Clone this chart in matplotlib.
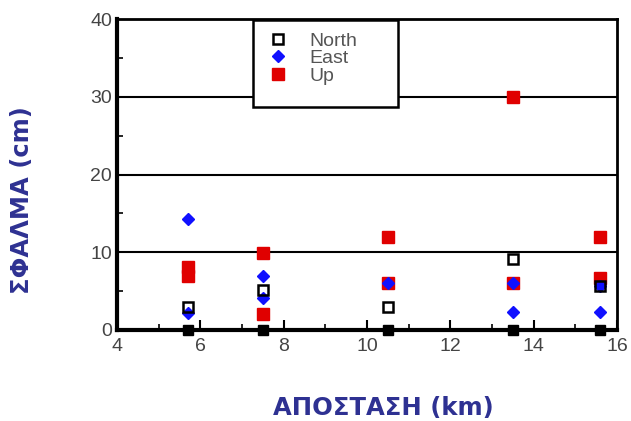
import matplotlib
matplotlib.use("Agg")
import matplotlib.pyplot as plt
from matplotlib.patches import Rectangle
from matplotlib.ticker import MultipleLocator

# Data
north_x = [5.7, 7.5, 10.5, 13.5, 15.6, 5.7, 7.5, 10.5, 13.5, 15.6]
north_y = [0, 0, 0, 0, 0, 3.0, 5.1, 3.0, 9.1, 5.7]
east_x = [5.7, 5.7, 7.5, 7.5, 10.5, 13.5, 13.5, 15.6, 15.6]
east_y = [14.3, 2.2, 7.0, 4.1, 6.0, 6.0, 2.3, 5.7, 2.3]
up_x = [5.7, 5.7, 7.5, 7.5, 10.5, 10.5, 13.5, 13.5, 15.6, 15.6]
up_y = [8.1, 6.9, 9.9, 2.1, 12.0, 6.0, 30.0, 6.0, 12.0, 6.7]
legend_labels = ["North", "East", "Up"]
xlabel = "ΑΠΟΣΤΑΣΗ (km)"
ylabel = "ΣΦΑΛΜΑ (cm)"

fig = plt.figure(figsize=(6.31, 4.21), dpi=100)
W, H = 631, 421
ax = fig.add_axes([117 / W, 1 - 330 / H, 500 / W, 311 / H])
ax.set_xlim(4, 16)
ax.set_ylim(0, 40)

for y in [10, 20, 30]:
    ax.axhline(y, color="black", lw=1.5, zorder=1)

ax.plot(up_x, up_y, ls="none", marker="s", ms=8.5, mfc="#e00000", mec="#e00000",
        label=legend_labels[2], zorder=3)
ax.plot(east_x, east_y, ls="none", marker="D", ms=6, mfc="#1010ff", mec="#1010ff",
        label=legend_labels[1], zorder=4)
nz_x = [x for x, y in zip(north_x, north_y) if y != 0]
nz_y = [y for y in north_y if y != 0]
z_x = [x for x, y in zip(north_x, north_y) if y == 0]
z_y = [y for y in north_y if y == 0]
ax.plot(nz_x, nz_y, ls="none", marker="s", ms=6.5, mfc="none", mec="black",
        mew=1.8, label=legend_labels[0], zorder=5, clip_on=False)
ax.plot(z_x, z_y, ls="none", marker="s", ms=7, mfc="black", mec="black",
        zorder=5, clip_on=False)

ax.xaxis.set_major_locator(MultipleLocator(2))
ax.xaxis.set_minor_locator(MultipleLocator(1))
ax.yaxis.set_major_locator(MultipleLocator(10))
ax.yaxis.set_minor_locator(MultipleLocator(5))
ax.tick_params(which="both", direction="in", colors="black", labelcolor="#444444",
               labelsize=14)
ax.tick_params(which="major", length=7, width=1.5)
ax.tick_params(which="minor", length=4, width=1.2)
ax.tick_params(axis="y", which="major", length=0)
ax.tick_params(axis="x", pad=6)
for lab in ax.get_xticklabels() + ax.get_yticklabels():
    lab.set_family("Liberation Sans")

ax.spines["left"].set_linewidth(3)
ax.spines["bottom"].set_linewidth(3)
ax.spines["right"].set_linewidth(2)
ax.spines["top"].set_linewidth(2)

# Legend box
bx0 = (253 - 117) / 500
bx1 = (398 - 117) / 500
by1 = (330 - 20) / 311
by0 = (330 - 107) / 311
ax.add_patch(Rectangle((bx0, by0), bx1 - bx0, by1 - by0, transform=ax.transAxes,
                       fill=True, facecolor="white", edgecolor="black", lw=1.8,
                       zorder=6, clip_on=False))
handles, labels = ax.get_legend_handles_labels()
order = [2, 1, 0]
leg = ax.legend([handles[i] for i in order], [labels[i] for i in order],
                loc="upper left", bbox_to_anchor=(bx0 + 0.0, by1 + 0.005),
                frameon=False, handlelength=1.2, handletextpad=1.0,
                labelspacing=0.0, borderpad=0.2,
                prop={"family": "Liberation Sans", "size": 14})
leg.set_zorder(7)
for t in leg.get_texts():
    t.set_color("#555555")

fig.text(383 / W, 1 - 408 / H, xlabel, ha="center", va="center", fontsize=17.5,
         fontweight="bold", color="#2e3192", family="DejaVu Sans")
fig.text(22 / W, 1 - 200 / H, ylabel, ha="center", va="center", rotation=90,
         fontsize=17.5, fontweight="bold", color="#2e3192", family="DejaVu Sans")

fig.savefig("out.png", dpi=100)
